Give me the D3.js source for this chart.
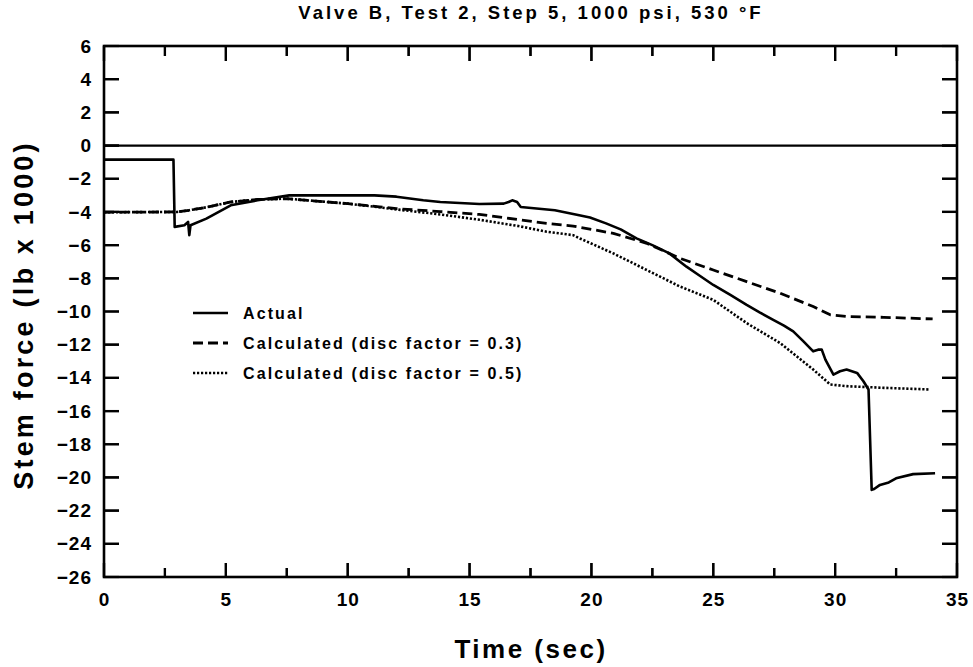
<!DOCTYPE html>
<html lang="en">
<head>
<meta charset="UTF-8">
<title>Valve B stem force</title>
<script src="https://d3js.org/d3.v7.min.js"></script>
</head>
<body style="margin:0;background:#fff">
<svg id="chart" width="973" height="667"></svg>
<script>
// values (time in sec, force in lb x 1000)
var actualT = [0, 2.85, 2.9, 3.3, 3.45, 3.5, 3.55, 4.2, 5.2, 6.3, 7.6, 9.5, 11.1, 12.0, 13.1, 13.8, 15.4, 16.4, 16.6, 16.75, 16.95, 17.1, 18.5, 19.5, 19.94, 20.6, 21.2, 21.85, 22.5, 23.2, 23.9, 24.4, 25.0, 25.7, 26.37, 26.9, 27.46, 27.9, 28.28, 28.7, 29.1, 29.3, 29.45, 29.6, 29.93, 30.2, 30.47, 30.9, 31.16, 31.37, 31.5, 31.6, 31.84, 32.2, 32.5, 33.2, 34.1];
var actualF = [-0.85, -0.85, -4.9, -4.8, -4.6, -5.4, -4.8, -4.4, -3.6, -3.3, -3.0, -3.0, -3.0, -3.08, -3.3, -3.4, -3.52, -3.5, -3.4, -3.3, -3.4, -3.7, -3.9, -4.2, -4.33, -4.69, -5.05, -5.59, -6.0, -6.5, -7.3, -7.8, -8.4, -9.0, -9.6, -10.05, -10.5, -10.85, -11.2, -11.8, -12.4, -12.3, -12.3, -12.9, -13.8, -13.6, -13.5, -13.7, -14.2, -14.7, -20.75, -20.7, -20.45, -20.3, -20.05, -19.8, -19.75];

var calc03T = [0, 3.0, 3.5, 4.2, 5.2, 6.3, 7.5, 10, 11.3, 12, 13.8, 15.4, 18.16, 19.25, 20.9, 22.27, 23.64, 25.0, 26.37, 27.74, 29.1, 29.8, 30.47, 32, 34];
var calc03F = [-4.02, -4.0, -3.9, -3.72, -3.4, -3.25, -3.2, -3.5, -3.69, -3.8, -3.98, -4.15, -4.69, -4.85, -5.29, -5.89, -6.8, -7.5, -8.2, -8.9, -9.7, -10.2, -10.3, -10.35, -10.45];

var calc05T = [0, 3.0, 3.5, 4.2, 5.2, 6.3, 7.5, 10, 11.3, 12, 13.8, 15.4, 17.0, 18.16, 19.25, 19.53, 20.9, 22.27, 23.64, 25.0, 26.37, 27.74, 29.1, 29.8, 30.47, 32, 33.9];
var calc05F = [-4.02, -4.0, -3.9, -3.72, -3.4, -3.25, -3.2, -3.5, -3.72, -3.85, -4.15, -4.47, -4.85, -5.19, -5.4, -5.6, -6.5, -7.5, -8.5, -9.3, -10.7, -11.9, -13.5, -14.4, -14.5, -14.6, -14.7];

var xMajor = [0, 5, 10, 15, 20, 25, 30, 35];
var xMinor = [2.5, 7.5, 12.5, 17.5, 22.5, 27.5, 32.5];
var yTicks = d3.range(6, -27, -2);

var legendLabels = ["Actual", "Calculated (disc factor = 0.3)", "Calculated (disc factor = 0.5)"];
var chartTitle = "Valve B, Test 2, Step 5, 1000 psi, 530 \u00B0F";

var FONT = "'Liberation Sans', Arial, sans-serif";

var svg = d3.select("#chart"),
    plotL = 104, plotR = 957, plotT = 46, plotB = 577;

var x = d3.scaleLinear().domain([0, 35]).range([plotL, plotR]);
var y = d3.scaleLinear().domain([6, -26]).range([plotT, plotB]);

function label(sel, size, spacing) {
    return sel.attr("font-family", FONT).attr("font-weight", "bold")
        .attr("font-size", size).attr("letter-spacing", spacing).attr("fill", "#000");
}

// title
label(svg.append("text"), 18.5, 3)
    .attr("x", 531).attr("y", 19)
    .attr("text-anchor", "middle")
    .text(chartTitle);

// tick marks inside the frame, as small filled bars
var tickPath = d3.path();
function vTicks(vals, len) {
    vals.forEach(function(d) {
        tickPath.moveTo(x(d), plotB); tickPath.lineTo(x(d), plotB - len);
        tickPath.moveTo(x(d), plotT); tickPath.lineTo(x(d), plotT + len + 1);
    });
}
vTicks(xMajor, 14);
vTicks(xMinor, 9);
yTicks.forEach(function(d) {
    tickPath.moveTo(plotL, y(d)); tickPath.lineTo(plotL + 15, y(d));
    tickPath.moveTo(plotR, y(d)); tickPath.lineTo(plotR - 15, y(d));
});
svg.append("path")
    .attr("d", tickPath.toString())
    .attr("fill", "none").attr("stroke", "#000").attr("stroke-width", 2.2);

var tickBars = svg.append("g").attr("fill", "#000");
tickBars.selectAll(null).data(xMajor.map(function(d) { return [d, 14]; }).concat(xMinor.map(function(d) { return [d, 9]; })))
    .join("rect")
    .attr("x", function(d) { return x(d[0]) - 1.1; }).attr("width", 2.2)
    .attr("y", function(d) { return plotB - d[1]; }).attr("height", function(d) { return d[1]; });
tickBars.selectAll(null).data(xMajor.map(function(d) { return [d, 15]; }).concat(xMinor.map(function(d) { return [d, 10]; })))
    .join("rect")
    .attr("x", function(d) { return x(d[0]) - 1.1; }).attr("width", 2.2)
    .attr("y", plotT).attr("height", function(d) { return d[1]; });
tickBars.selectAll(null).data(yTicks)
    .join("rect")
    .attr("x", plotL).attr("width", 15)
    .attr("y", function(d) { return y(d) - 1.1; }).attr("height", 2.2);
tickBars.selectAll(null).data(yTicks)
    .join("rect")
    .attr("x", plotR - 15).attr("width", 15)
    .attr("y", function(d) { return y(d) - 1.1; }).attr("height", 2.2);

// frame
svg.append("rect")
    .attr("x", plotL).attr("y", plotT)
    .attr("width", plotR - plotL).attr("height", plotB - plotT)
    .attr("fill", "none").attr("stroke", "#000").attr("stroke-width", 2.6);

// zero line
svg.append("line")
    .attr("x1", x(0)).attr("x2", x(35))
    .attr("y1", y(0)).attr("y2", y(0))
    .attr("stroke", "#000").attr("stroke-width", 2.2);

// tick labels through d3 axes
function tidy(g) {
    g.select(".domain").remove();
    g.selectAll(".tick line").remove();
    label(g.selectAll(".tick text"), 19, 1);
}

svg.append("g").attr("transform", "translate(0," + plotB + ")")
    .call(d3.axisBottom(x).tickValues(xMajor).tickSize(0).tickPadding(16).tickFormat(d3.format("d")))
    .call(tidy);

svg.append("g").attr("transform", "translate(" + plotL + ",0)")
    .call(d3.axisLeft(y).tickValues(yTicks).tickSize(0).tickPadding(12).tickFormat(function(d) { return d < 0 ? "\u2212" + (-d) : d; }))
    .call(tidy);

// axis titles
label(svg.append("text"), 26, 2.5)
    .attr("x", 531).attr("y", 658)
    .attr("text-anchor", "middle")
    .text("Time (sec)");

label(svg.append("text"), 27, 3.2)
    .attr("transform", "translate(33,315) rotate(-90)")
    .attr("text-anchor", "middle")
    .text("Stem force (lb x 1000)");

// series
var lineGen = d3.line().x(function(d) { return x(d[0]); }).y(function(d) { return y(d[1]); });

var series = [
    { t: actualT, f: actualF, dash: null, width: 2.6 },
    { t: calc03T, f: calc03F, dash: "10,5", width: 2.8 },
    { t: calc05T, f: calc05F, dash: "2.2,1.8", width: 2.6 }
];

series.forEach(function(s) {
    var pts = s.t.map(function(t, i) { return [t, s.f[i]]; });
    svg.append("path")
        .datum(pts)
        .attr("d", lineGen)
        .attr("fill", "none")
        .attr("stroke", "#000")
        .attr("stroke-width", s.width)
        .attr("stroke-dasharray", s.dash)
        .attr("stroke-linejoin", "round");
});

// legend
var legendG = svg.append("g");
legendLabels.forEach(function(lbl, i) {
    var ly = 313 + i * 30;
    legendG.append("line")
        .attr("x1", 193).attr("x2", 228)
        .attr("y1", ly).attr("y2", ly)
        .attr("stroke", "#000")
        .attr("stroke-width", series[i].width)
        .attr("stroke-dasharray", series[i].dash);
    label(legendG.append("text"), 16, 2.1)
        .attr("x", 243).attr("y", ly + 6)
        .text(lbl);
});
</script>
</body>
</html>
